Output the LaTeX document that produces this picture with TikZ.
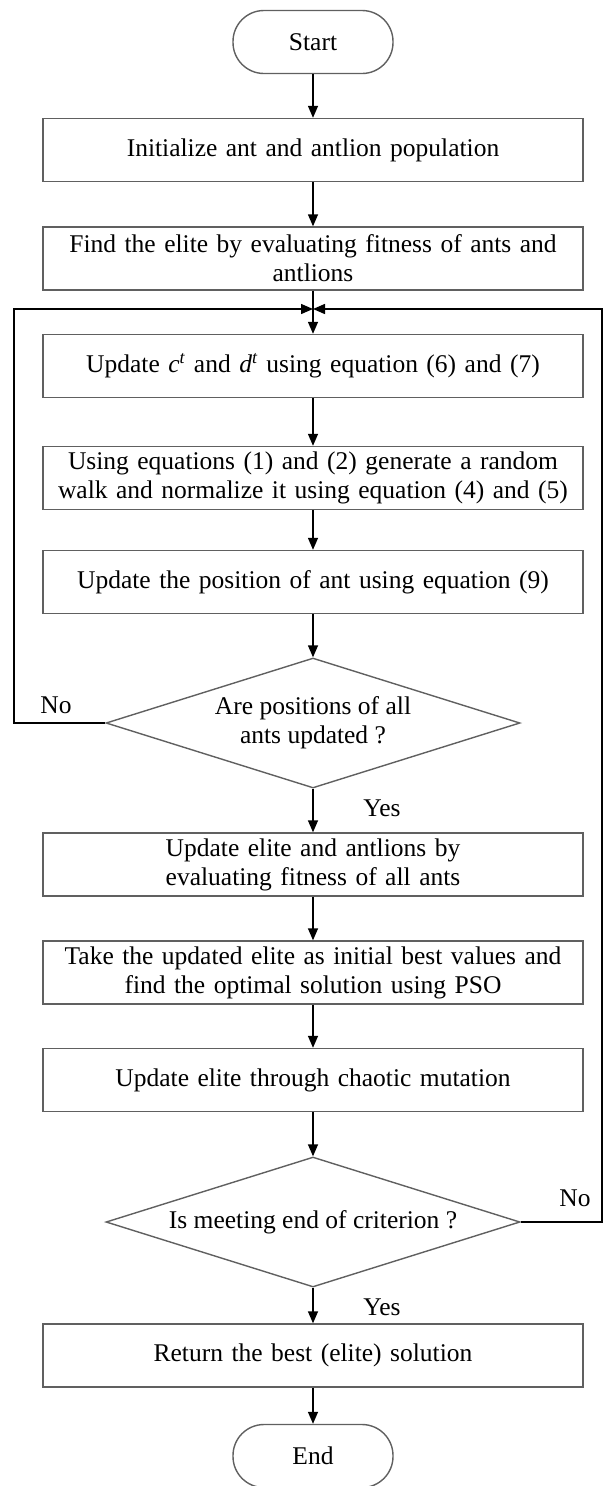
\documentclass[tikz,border=0pt]{standalone}
\usepackage{fontspec}
\setmainfont{Liberation Serif}
\usetikzlibrary{shapes.geometric,arrows.meta}
\definecolor{boxline}{HTML}{606060}
\tikzset{
  x=1pt,y=-1pt,
  every node/.style={font=\fontsize{25.5}{29}\selectfont},
  procbox/.style={draw=boxline,line width=1.4pt,rectangle,minimum width=540pt,minimum height=63pt,text width=536pt,align=center,inner sep=0pt},
  termbox/.style={draw=boxline,line width=1.4pt,rectangle,rounded corners=31pt,minimum width=160pt,minimum height=63pt},
  decbox/.style={draw=boxline,line width=1.4pt,diamond,aspect=3.18,minimum width=414pt,minimum height=130pt,inner sep=0pt,align=center},
  arr/.style={line width=1.4pt,-{Triangle[length=12pt,width=10pt]}},
  lbl/.style={inner sep=0pt}
}
\begin{document}
\begin{tikzpicture}
\useasboundingbox (0,0) rectangle (604,1486);
\node[termbox] (start) at (313,42) {Start};
\node[procbox] (b1) at (313,150) {Initialize ant and antlion population};
\node[procbox] (b2) at (313,258.5) {Find the elite by evaluating fitness of ants and\\antlions};
\coordinate (merge) at (313,309);
\node[procbox] (b3) at (313,366) {Update \textit{c}\textsuperscript{\textit{t}} and \textit{d}\textsuperscript{\textit{t}} using equation (6) and (7)};
\node[procbox] (b4) at (313,478) {Using equations (1) and (2) generate a random\\walk and normalize it using equation (4) and (5)};
\node[procbox] (b5) at (313,582) {Update the position of ant using equation (9)};
\node[decbox] (d1) at (313,723) {Are positions of all\\ants updated ?};
\node[procbox] (b6) at (313,864.5) {Update elite and antlions by\\evaluating fitness of all ants};
\node[procbox] (b7) at (313,972.5) {Take the updated elite as initial best values and\\find the optimal solution using PSO};
\node[procbox] (b8) at (313,1080) {Update elite through chaotic mutation};
\node[decbox] (d2) at (313,1222) {Is meeting end of criterion ?};
\node[procbox] (b9) at (313,1355.5) {Return the best (elite) solution};
\node[termbox] (end) at (313,1456) {End};
\coordinate (lc1) at (14,723);
\coordinate (lc2) at (14,309);
\coordinate (rc1) at (602,1222);
\coordinate (rc2) at (602,309);
\node[lbl] (no1) at (56,705) {No};
\node[lbl] (yes1) at (382,808) {Yes};
\node[lbl] (no2) at (575,1198) {No};
\node[lbl] (yes2) at (382,1307) {Yes};
\draw[arr] (start) -- (b1);
\draw[arr] (b1) -- (b2);
\draw[arr] (b2) -- (b3);
\draw[arr] (b3) -- (b4);
\draw[arr] (b4) -- (b5);
\draw[arr] (b5) -- (d1);
\draw[arr] (d1) -- (b6);
\draw[arr] (b6) -- (b7);
\draw[arr] (b7) -- (b8);
\draw[arr] (b8) -- (d2);
\draw[arr] (d2) -- (b9);
\draw[arr] (b9) -- (end);
\draw[arr] (d1.west) -- (lc1) -- (lc2) -- (merge);
\draw[arr] (d2.east) -- (rc1) -- (rc2) -- (merge);
\end{tikzpicture}
\end{document}
